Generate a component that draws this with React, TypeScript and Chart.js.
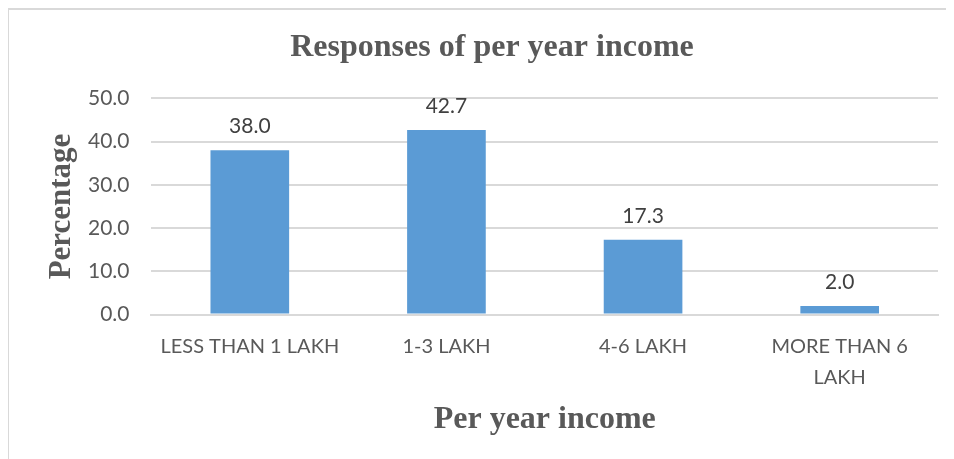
import React, { useEffect, useRef } from "react";
import { Chart, registerables } from "chart.js";

Chart.register(...registerables);

const categories: (string | string[])[] = [
  "LESS THAN 1 LAKH",
  "1-3 LAKH",
  "4-6 LAKH",
  ["MORE THAN 6", "LAKH"],
];
const percentages = [38.0, 42.7, 17.3, 2.0];
const yTicks = [0, 10, 20, 30, 40, 50];

const chartTitle = "Responses of per year income";
const xTitle = "Per year income";
const yTitle = "Percentage";

const labelFont = "Lato, 'Open Sans', sans-serif";
const serif = "'Liberation Serif', 'Times New Roman', serif";

const dataLabels = {
  id: "dataLabels",
  afterDatasetsDraw(chart: any) {
    const ctx = chart.ctx;
    const meta = chart.getDatasetMeta(0);
    ctx.save();
    ctx.fillStyle = "#404040";
    ctx.font = `21px ${labelFont}`;
    ctx.textAlign = "center";
    ctx.textBaseline = "middle";
    meta.data.forEach((bar: any, i: number) => {
      const v = chart.data.datasets[0].data[i] as number;
      ctx.fillText(v.toFixed(1), bar.x, bar.y - 24);
    });
    ctx.restore();
  },
};

export default function App() {
  const ref = useRef<HTMLCanvasElement>(null);
  useEffect(() => {
    if (!ref.current) return;
    const chart = new Chart(ref.current, {
      type: "bar",
      data: {
        labels: categories,
        datasets: [
          {
            data: percentages,
            backgroundColor: "#5B9BD5",
            barPercentage: 0.8,
            categoryPercentage: 0.5,
          },
        ],
      },
      options: {
        animation: false,
        responsive: false,
        maintainAspectRatio: false,
        layout: { padding: { left: 37, right: 16, top: 19, bottom: 20 } },
        plugins: {
          legend: { display: false },
          tooltip: { enabled: false },
          title: {
            display: true,
            text: chartTitle,
            color: "#595959",
            font: { family: serif, size: 32, weight: "bold", lineHeight: 1.2 },
            padding: { top: 0, bottom: 31 },
          },
        },
        scales: {
          y: {
            min: 0,
            max: 50,
            afterBuildTicks: (axis: any) => {
              axis.ticks = yTicks.map((v) => ({ value: v }));
            },
            ticks: {
              color: "#595959",
              font: { family: labelFont, size: 21 },
              padding: 22,
              callback: (v: any) => Number(v).toFixed(1),
            },
            grid: { color: "#d9d9d9", lineWidth: 2, drawTicks: false },
            border: { display: false },
            title: {
              display: true,
              text: yTitle,
              color: "#595959",
              font: { family: serif, size: 31, weight: "bold", lineHeight: 1.0 },
              padding: { top: 0, bottom: -11 },
            },
          },
          x: {
            ticks: {
              color: "#595959",
              font: { family: labelFont, size: 20, lineHeight: 1.55 },
              padding: 16,
              maxRotation: 0,
              autoSkip: false,
            },
            grid: { display: false, drawTicks: false },
            border: { display: true, color: "#d9d9d9", width: 2 },
            title: {
              display: true,
              text: xTitle,
              color: "#595959",
              font: { family: serif, size: 32, weight: "bold", lineHeight: 1.2 },
              padding: { top: -8, bottom: 0 },
            },
          },
        },
      },
      plugins: [dataLabels],
    });
    return () => chart.destroy();
  }, []);

  return (
    <div
      style={{
        marginLeft: -1,
        width: 947,
        height: 451,
        borderLeft: "2px solid #d9d9d9",
        borderTop: "2px solid #d9d9d9",
        boxSizing: "border-box",
        overflow: "hidden",
      }}
    >
      <canvas ref={ref} width={945} height={449} style={{ display: "block" }} />
    </div>
  );
}
